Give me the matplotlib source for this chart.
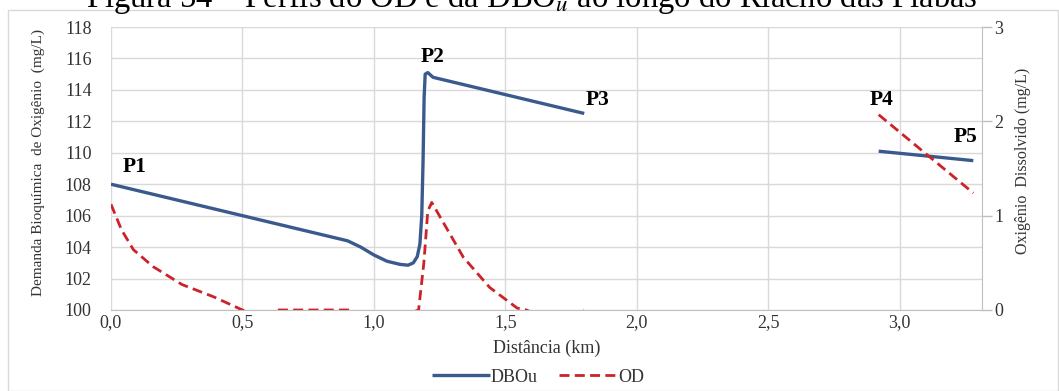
import matplotlib.pyplot as plt
import matplotlib.patches as patches
import numpy as np

plt.rcParams['font.family'] = ['Liberation Serif', 'DejaVu Serif']
plt.rcParams['mathtext.fontset'] = 'stix'

# Dados (DBOu em mg/L, OD em mg/L, distância em km)
dist_dbo = [0.0, 0.1, 0.2, 0.3, 0.4, 0.5, 0.6, 0.7, 0.8, 0.85, 0.9, 0.95, 1.0, 1.05,
            1.1, 1.13, 1.15, 1.165, 1.175, 1.182, 1.187, 1.191, 1.195, 1.205, 1.225,
            1.4, 1.6, 1.8, np.nan, 2.92, 3.28]
dbo = [108.0, 107.6, 107.2, 106.8, 106.4, 106.0, 105.6, 105.2, 104.8, 104.6, 104.4,
       104.0, 103.5, 103.1, 102.9, 102.85, 103.0, 103.4, 104.2, 106.0, 109.5, 113.5,
       115.0, 115.1, 114.8, 114.1, 113.3, 112.5, np.nan, 110.1, 109.5]

dist_od = [0.0, 0.04, 0.085, 0.16, 0.27, 0.39, 0.5, 0.55, 0.6, 0.63, 0.91, 0.94, 1.12,
           1.17, 1.19, 1.205, 1.22, 1.34, 1.44, 1.545, 1.58, 1.62, 1.76, 1.8,
           np.nan, 2.92, 3.28]
od = [1.12, 0.85, 0.64, 0.46, 0.27, 0.14, 0.0, -0.05, -0.05, 0.0, 0.0, -0.05, -0.05,
      0.0, 0.5, 1.05, 1.14, 0.56, 0.24, 0.02, 0.0, -0.05, -0.05, 0.0,
      np.nan, 2.07, 1.24]

rotulos = ['P1', 'P2', 'P3', 'P4', 'P5']
rot_x = [0.09, 1.225, 1.85, 2.93, 3.25]
rot_y = [109.1, 116.1, 113.35, 113.35, 111.0]

azul = '#3a5a8e'
vermelho = '#cc2229'
cinza = '#d9d9d9'
texto = '#333333'

fig = plt.figure(figsize=(10.59, 3.91), dpi=100)
ax = fig.add_axes([111 / 1059, 81 / 391, 871 / 1059, 283 / 391])
ax2 = ax.twinx()

l1, = ax.plot(dist_dbo, dbo, color=azul, lw=2.4, solid_capstyle='butt', zorder=3)
l2, = ax2.plot(dist_od, od, color=vermelho, lw=2.0, dashes=(3.6, 1.9), zorder=3)

for r, x, y in zip(rotulos, rot_x, rot_y):
    ax.text(x, y, r, fontsize=15.5, fontweight='bold', ha='center', va='center', color='black')

ax.set_xlim(0, 3.313)
ax.set_ylim(100, 118)
ax.set_yticks(np.arange(100, 119, 2))
ax.set_xticks(np.arange(0, 3.01, 0.5))
ax.set_xticklabels(['0,0', '0,5', '1,0', '1,5', '2,0', '2,5', '3,0'])
ax2.set_ylim(0, 3)
ax2.set_yticks([0, 1, 2, 3])

ax.grid(True, color=cinza, lw=1)
ax.set_axisbelow(True)
for s in ['top', 'left', 'right']:
    ax.spines[s].set_visible(False)
for s in ['top', 'left', 'bottom']:
    ax2.spines[s].set_visible(False)
ax.spines['bottom'].set_color('#bfbfbf')
ax2.spines['right'].set_color('#bfbfbf')

ax.tick_params(axis='both', length=0, labelsize=13, labelcolor=texto)
ax.tick_params(axis='y', pad=14)
ax.tick_params(axis='x', pad=3)
ax2.tick_params(axis='y', length=7, width=1, color='#bfbfbf', labelsize=13,
                labelcolor=texto, pad=2)

ax.set_xlabel('Distância (km)', fontsize=13, color=texto, labelpad=6)
fig.text(38 / 1059, 1 - 162 / 391, 'Demanda Bioquímica  de Oxigênio  (mg/L)',
         rotation=90, ha='center', va='center', fontsize=11, color=texto)
fig.text(1023 / 1059, 1 - 161 / 391, 'Oxigênio  Dissolvido (mg/L)',
         rotation=90, ha='center', va='center', fontsize=11.5, color=texto)

fig.legend([l1, l2], ['DBOu', 'OD'], loc='center', bbox_to_anchor=(538 / 1059, 1 - 377 / 391),
           ncol=2, frameon=False, fontsize=13, handlelength=3.2, handletextpad=0.05,
           columnspacing=1.2, labelcolor=texto)

# moldura do gráfico
fig.patches.append(patches.Rectangle((8 / 1059, 0.5 / 391), 1050 / 1059, 381 / 391,
                                     transform=fig.transFigure, fill=False,
                                     edgecolor=cinza, lw=1))

fig.text(532 / 1059, 1 - 7 / 391,
         'Figura 54 – Perfis do OD e da DBO$_u$ ao longo do Riacho das Piabas',
         ha='center', va='baseline', fontsize=23.5, color='black')

fig.savefig('out.png', dpi=100)
